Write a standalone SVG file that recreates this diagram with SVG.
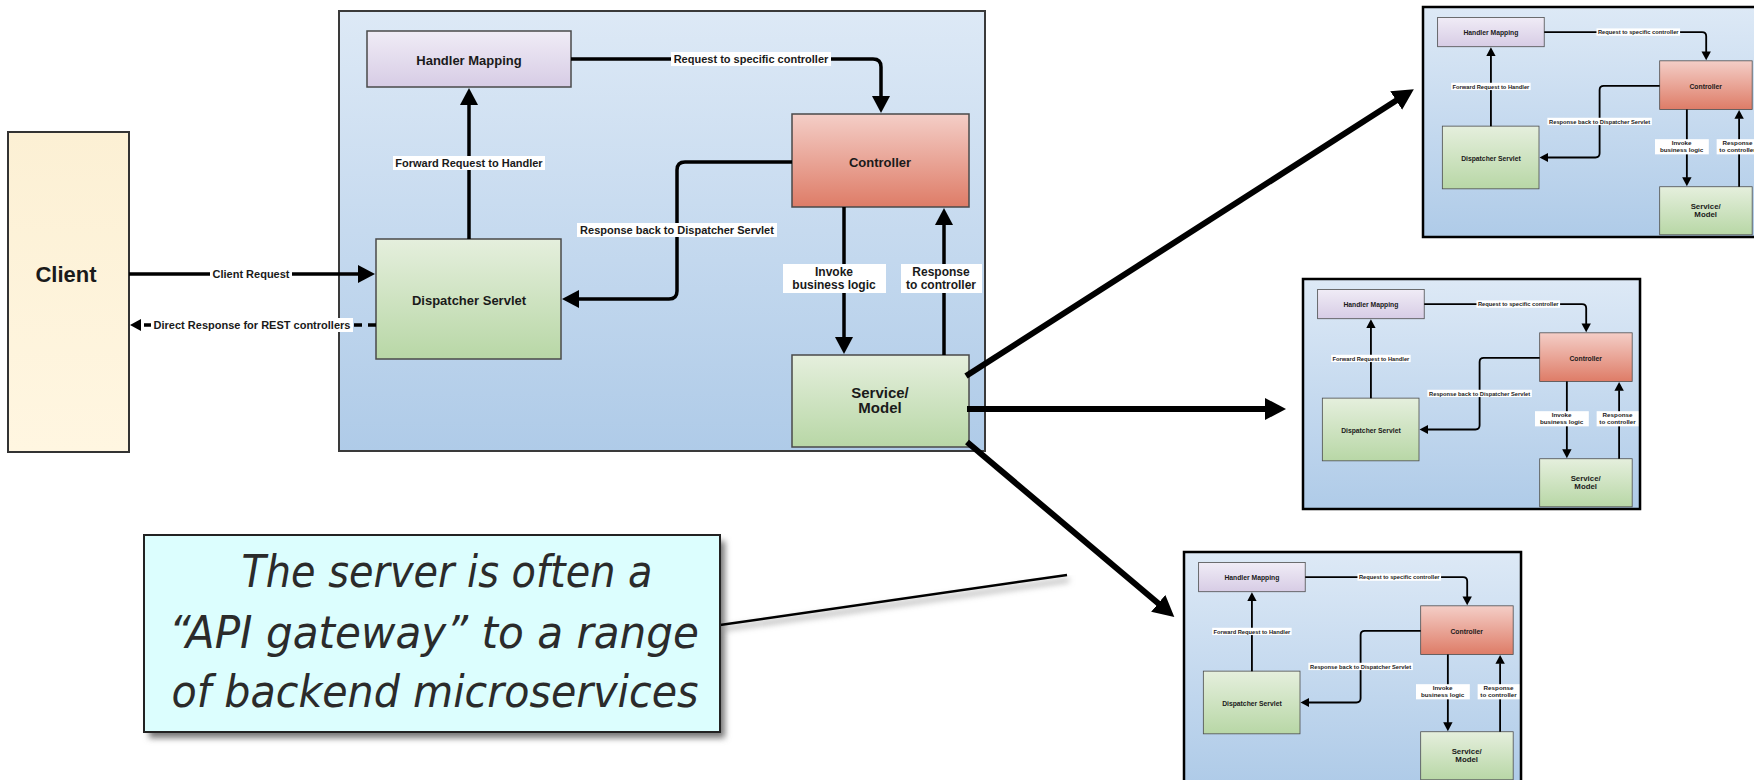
<svg xmlns="http://www.w3.org/2000/svg" width="1754" height="780" viewBox="0 0 1754 780">
<style>
.box{stroke:#4a4a4a;stroke-width:1.5}
.t{font-family:"Liberation Sans",Arial,sans-serif;font-weight:bold;fill:#1a1a1a;text-anchor:middle}
.n13{font-size:13px}
.n15{font-size:15px}
.lbl{font-size:11px}
.lbl2{font-size:12px}
.lbg{fill:#ffffff}
.edge{fill:none;stroke:#000;stroke-width:3.5}
.big{fill:none;stroke:#000;stroke-width:6}
.call{font-family:"DejaVu Sans","Liberation Sans",sans-serif;font-style:italic;font-size:44px;fill:#2b2b2b;text-anchor:middle}
</style>
<defs>
<linearGradient id="gServer" x1="0" y1="0" x2="0" y2="1"><stop offset="0" stop-color="#dde9f6"/><stop offset="1" stop-color="#afcbe8"/></linearGradient>
<linearGradient id="gClient" x1="0" y1="0" x2="0" y2="1"><stop offset="0" stop-color="#fcf0d4"/><stop offset="1" stop-color="#fff6e1"/></linearGradient>
<linearGradient id="gHM" x1="0" y1="0" x2="0" y2="1"><stop offset="0" stop-color="#f0ecf6"/><stop offset="1" stop-color="#d7cce5"/></linearGradient>
<linearGradient id="gCtrl" x1="0" y1="0" x2="0" y2="1"><stop offset="0" stop-color="#f4cec7"/><stop offset="1" stop-color="#de7c67"/></linearGradient>
<linearGradient id="gGreen" x1="0" y1="0" x2="0" y2="1"><stop offset="0" stop-color="#e5efdd"/><stop offset="1" stop-color="#b8d7a6"/></linearGradient>
<marker id="head" markerUnits="userSpaceOnUse" markerWidth="18" markerHeight="18" refX="1" refY="9" orient="auto"><path d="M0,0 L17,9 L0,18 z" fill="#000"/></marker>
<marker id="headSm" markerUnits="userSpaceOnUse" markerWidth="12" markerHeight="12" refX="1" refY="6" orient="auto"><path d="M0,0 L11,6 L0,12 z" fill="#000"/></marker>
<marker id="headBig" markerUnits="userSpaceOnUse" markerWidth="22" markerHeight="22" refX="1" refY="11" orient="auto"><path d="M0,0 L21,11 L0,22 z" fill="#000"/></marker>
<filter id="shadow" x="-10%" y="-10%" width="130%" height="140%"><feGaussianBlur stdDeviation="3"/></filter>
</defs>

<g id="client">
<rect x="8" y="132" width="121" height="320" fill="url(#gClient)" stroke="#333" stroke-width="2"/>
<text class="t" x="66" y="282" font-size="22">Client</text>
</g>

<g id="server">
<rect x="339" y="11" width="646" height="440" fill="url(#gServer)" stroke="#3a3a3a" stroke-width="2"/>
<g id="handler-mapping">
<rect class="box" x="367" y="31" width="204" height="56" fill="url(#gHM)"/>
<text class="t n13" x="469" y="65">Handler Mapping</text>
</g>
<g id="controller">
<rect class="box" x="792" y="114" width="177" height="93" fill="url(#gCtrl)"/>
<text class="t n13" x="880" y="167">Controller</text>
</g>
<g id="dispatcher-servlet">
<rect class="box" x="376" y="239" width="185" height="120" fill="url(#gGreen)"/>
<text class="t n13" x="469" y="305">Dispatcher Servlet</text>
</g>
<g id="service-model">
<rect class="box" x="792" y="355" width="177" height="92" fill="url(#gGreen)"/>
<text class="t n15" x="880" y="398">Service/</text>
<text class="t n15" x="880" y="413">Model</text>
</g>
<g id="server-connectors">
<path class="edge" d="M571,59 H873 Q881,59 881,67 V97" marker-end="url(#head)"/>
<rect class="lbg" x="671" y="52" width="160" height="14"/>
<text class="t lbl" x="751" y="63">Request to specific controller</text>
<path class="edge" d="M469,239 V104" marker-end="url(#head)"/>
<rect class="lbg" x="393" y="156" width="152" height="14"/>
<text class="t lbl" x="469" y="167">Forward Request to Handler</text>
<path class="edge" d="M792,162 H685 Q677,162 677,170 V291 Q677,299 669,299 H578" marker-end="url(#head)"/>
<rect class="lbg" x="577" y="223" width="200" height="14"/>
<text class="t lbl" x="677" y="234">Response back to Dispatcher Servlet</text>
<path class="edge" d="M844,207 V338" marker-end="url(#head)"/>
<rect class="lbg" x="783" y="264" width="103" height="29"/>
<text class="t lbl2" x="834" y="276">Invoke</text>
<text class="t lbl2" x="834" y="289">business logic</text>
<path class="edge" d="M944,355 V224" marker-end="url(#head)"/>
<rect class="lbg" x="901" y="264" width="81" height="29"/>
<text class="t lbl2" x="941" y="276">Response</text>
<text class="t lbl2" x="941" y="289">to controller</text>
</g>
</g>

<g id="thumb-1">
<use href="#server" transform="translate(1423,7) scale(0.5225) translate(-339,-11)"/>
<rect x="1423" y="7" width="338" height="230" fill="none" stroke="#000" stroke-width="2.5"/>
</g>
<g id="thumb-2">
<use href="#server" transform="translate(1303,279) scale(0.5225) translate(-339,-11)"/>
<rect x="1303" y="279" width="337" height="230" fill="none" stroke="#000" stroke-width="2.5"/>
</g>
<g id="thumb-3">
<use href="#server" transform="translate(1184,552) scale(0.5225) translate(-339,-11)"/>
<rect x="1184" y="552" width="337" height="230" fill="none" stroke="#000" stroke-width="2.5"/>
</g>

<g id="connectors">
<path class="edge" d="M129,274 H359" marker-end="url(#head)"/>
<rect class="lbg" x="210" y="267" width="82" height="14"/>
<text class="t lbl" x="251" y="278">Client Request</text>
<path class="edge" d="M376,325 H140" stroke-dasharray="8 6" stroke-width="2.5" marker-end="url(#headSm)"/>
<rect class="lbg" x="151" y="318" width="202" height="14"/>
<text class="t lbl" x="252" y="329">Direct Response for REST controllers</text>
<path class="big" d="M966,376 L1397,100" marker-end="url(#headBig)"/>
<path class="big" d="M967,409 H1266" marker-end="url(#headBig)"/>
<path class="big" d="M967,442 L1159,604" marker-end="url(#headBig)"/>
</g>

<g id="callout">
<rect x="149" y="541" width="576" height="197" fill="#777" filter="url(#shadow)"/>
<path d="M722,629 L1069,580" stroke="#999" stroke-width="3" filter="url(#shadow)"/>
<path d="M720,625 L1067,575" stroke="#000" stroke-width="2.5"/>
<rect x="144" y="535" width="576" height="197" fill="#dcfefe" stroke="#222" stroke-width="2"/>
<text class="call" x="447" y="587" textLength="411" lengthAdjust="spacingAndGlyphs">The server is often a</text>
<text class="call" x="434" y="648" textLength="530" lengthAdjust="spacingAndGlyphs">“API gateway” to a range</text>
<text class="call" x="435" y="707" textLength="527" lengthAdjust="spacingAndGlyphs">of backend microservices</text>
</g>
</svg>
